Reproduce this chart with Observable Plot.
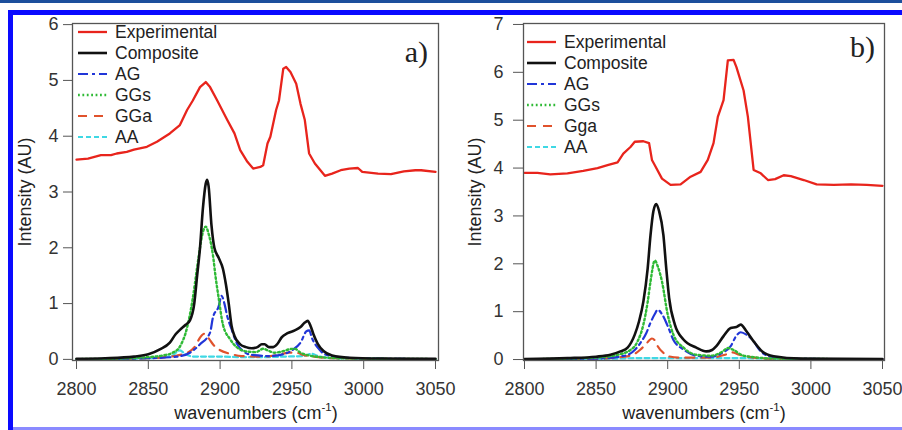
<!DOCTYPE html>
<html><head><meta charset="utf-8">
<script src="https://cdn.jsdelivr.net/npm/d3@7"></script>
<script src="https://cdn.jsdelivr.net/npm/@observablehq/plot@0.6"></script>
<style>
html,body{margin:0;padding:0;background:#fff;}
#wrap{position:relative;width:902px;height:430px;overflow:hidden;background:#fff;}
#wrap svg{position:absolute;top:0;}
.bar{position:absolute;z-index:5;}
</style></head><body>
<div id="wrap">
 <div class="bar" style="left:0;top:0;width:902px;height:3px;background:#1d4f9c"></div>
 <div class="bar" style="left:8px;top:10px;width:894px;height:5px;background:#0a0aff"></div>
 <div class="bar" style="left:8px;top:10px;width:5px;height:420px;background:#0a0aff"></div>
 <div class="bar" style="left:13px;top:427px;width:889px;height:3px;background:#8a8aff"></div>
</div>
<script>
// ---------- data: [wavenumber, intensity] ----------
const xTicks = [2800, 2850, 2900, 2950, 3000, 3050];
const yTicksA = [0, 1, 2, 3, 4, 5, 6];
const yTicksB = [0, 1, 2, 3, 4, 5, 6, 7];
const namesA = ["Experimental", "Composite", "AG", "GGs", "GGa", "AA"];
const namesB = ["Experimental", "Composite", "AG", "GGs", "Gga", "AA"];

const expA = [[2800,3.58],[2808,3.60],[2817,3.66],[2824,3.66],[2828,3.69],[2835,3.72],[2840,3.76],[2849,3.81],[2856,3.90],[2865,4.05],[2872,4.20],[2877,4.47],[2881,4.64],[2886,4.88],[2890,4.97],[2893,4.88],[2898,4.64],[2905,4.29],[2910,4.05],[2914,3.75],[2919,3.54],[2923,3.42],[2928,3.45],[2930,3.48],[2933,3.87],[2935,3.99],[2939,4.47],[2941,4.64],[2944,5.21],[2946,5.24],[2949,5.15],[2953,4.94],[2956,4.58],[2959,4.29],[2962,3.69],[2966,3.51],[2973,3.29],[2978,3.33],[2984,3.39],[2990,3.42],[2996,3.43],[2999,3.36],[3010,3.33],[3019,3.32],[3028,3.37],[3036,3.39],[3040,3.39],[3050,3.36]];
const compA = [[2800,0.01],[2820,0.02],[2840,0.05],[2850,0.09],[2858,0.18],[2865,0.3],[2869,0.45],[2872,0.53],[2876,0.62],[2879,0.7],[2882,1.0],[2884,1.5],[2886,2.0],[2888,2.7],[2890,3.15],[2891,3.22],[2892,3.1],[2894,2.4],[2896,2.0],[2899,1.82],[2902,1.62],[2904,1.35],[2906,1.0],[2908,0.6],[2910,0.42],[2914,0.27],[2918,0.22],[2922,0.2],[2926,0.22],[2929,0.27],[2931,0.27],[2934,0.22],[2937,0.22],[2940,0.28],[2943,0.4],[2947,0.47],[2952,0.52],[2956,0.58],[2959,0.66],[2961,0.69],[2963,0.6],[2965,0.45],[2968,0.28],[2972,0.15],[2978,0.07],[2990,0.03],[3010,0.015],[3050,0.01]];
const agA = [[2800,0.003],[2850,0.02],[2870,0.05],[2879,0.12],[2886,0.27],[2893,0.48],[2895,0.75],[2899,0.95],[2901,1.14],[2903,1.0],[2905,0.77],[2908,0.54],[2912,0.27],[2916,0.15],[2922,0.08],[2935,0.06],[2945,0.1],[2951,0.18],[2956,0.3],[2960,0.5],[2962,0.52],[2964,0.38],[2969,0.18],[2973,0.09],[2985,0.03],[3050,0.003]];
const ggsA = [[2800,0.005],[2830,0.015],[2850,0.04],[2860,0.07],[2867,0.12],[2872,0.23],[2877,0.57],[2881,1.1],[2884,1.65],[2886,2.0],[2888,2.28],[2890,2.38],[2892,2.25],[2895,1.87],[2897,1.45],[2899,1.1],[2902,0.62],[2907,0.36],[2912,0.21],[2919,0.14],[2925,0.13],[2930,0.19],[2934,0.15],[2938,0.12],[2943,0.14],[2948,0.18],[2952,0.19],[2956,0.12],[2962,0.07],[2970,0.04],[2985,0.02],[3050,0.005]];
const ggaA = [[2800,0.003],[2850,0.02],[2870,0.07],[2878,0.13],[2883,0.25],[2886,0.39],[2889,0.46],[2892,0.38],[2895,0.27],[2899,0.18],[2907,0.1],[2915,0.06],[2925,0.05],[2935,0.06],[2942,0.09],[2948,0.12],[2953,0.12],[2958,0.08],[2965,0.05],[2980,0.02],[3050,0.003]];
const aaA = [[2800,0.002],[2850,0.02],[2866,0.06],[2872,0.16],[2876,0.09],[2882,0.05],[2890,0.05],[2900,0.05],[2915,0.04],[2930,0.04],[2945,0.05],[2958,0.06],[2964,0.1],[2968,0.06],[2980,0.02],[3050,0.002]];

const expB = [[2800,3.90],[2809,3.90],[2818,3.87],[2824,3.88],[2830,3.89],[2841,3.94],[2851,4.00],[2858,4.06],[2865,4.12],[2869,4.30],[2874,4.44],[2877,4.55],[2883,4.56],[2887,4.52],[2889,4.17],[2891,4.06],[2896,3.78],[2902,3.65],[2909,3.66],[2916,3.82],[2923,3.92],[2928,4.17],[2932,4.52],[2935,5.07],[2939,5.42],[2942,6.25],[2946,6.26],[2948,6.11],[2953,5.62],[2956,5.07],[2960,3.96],[2965,3.89],[2970,3.75],[2975,3.77],[2981,3.85],[2986,3.83],[2995,3.75],[3004,3.66],[3016,3.65],[3028,3.66],[3039,3.65],[3050,3.63]];
const compB = [[2800,0.01],[2830,0.03],[2850,0.06],[2860,0.1],[2867,0.17],[2872,0.25],[2877,0.52],[2880,0.8],[2883,1.21],[2886,1.9],[2888,2.6],[2890,3.1],[2892,3.25],[2894,3.1],[2897,2.6],[2899,1.9],[2901,1.29],[2905,0.73],[2911,0.42],[2920,0.25],[2927,0.17],[2931,0.2],[2934,0.28],[2939,0.49],[2944,0.66],[2948,0.68],[2951,0.73],[2955,0.59],[2960,0.38],[2966,0.17],[2974,0.07],[2993,0.02],[3050,0.01]];
const agB = [[2800,0.003],[2850,0.02],[2870,0.08],[2877,0.2],[2881,0.35],[2885,0.55],[2888,0.77],[2891,0.95],[2893,1.04],[2896,0.95],[2900,0.7],[2904,0.41],[2911,0.21],[2920,0.08],[2930,0.06],[2938,0.14],[2944,0.28],[2948,0.5],[2951,0.57],[2955,0.52],[2959,0.42],[2965,0.17],[2972,0.06],[2985,0.02],[3050,0.003]];
const ggsB = [[2800,0.005],[2850,0.04],[2865,0.1],[2874,0.2],[2879,0.38],[2883,0.73],[2886,1.2],[2888,1.63],[2891,2.07],[2893,1.95],[2896,1.63],[2900,0.94],[2904,0.52],[2911,0.25],[2920,0.1],[2930,0.08],[2938,0.16],[2942,0.24],[2946,0.2],[2952,0.09],[2960,0.05],[2975,0.02],[3050,0.005]];
const ggaB = [[2800,0.003],[2850,0.02],[2870,0.06],[2877,0.12],[2881,0.21],[2885,0.33],[2889,0.44],[2891,0.4],[2893,0.28],[2897,0.14],[2900,0.07],[2910,0.04],[2930,0.04],[2940,0.1],[2945,0.15],[2950,0.1],[2958,0.05],[2970,0.02],[3050,0.003]];
const aaB = [[2800,0.002],[2850,0.01],[2880,0.03],[2900,0.03],[2930,0.03],[2950,0.03],[2970,0.02],[3050,0.002]];

// ---------- styles ----------
const FONT = "'Liberation Sans', Arial, Helvetica, sans-serif";
const lineStyles = [
  {stroke:"#e8241c", w:2.3, dash:null},          // Experimental
  {stroke:"#111111", w:2.6, dash:null},          // Composite
  {stroke:"#2136d8", w:2.2, dash:"10,4,3,4"},    // AG
  {stroke:"#2fba36", w:2.4, dash:"1.8,2.6"},     // GGs
  {stroke:"#e0522c", w:2.2, dash:"9,7"},         // GGa
  {stroke:"#3fd8e4", w:2.2, dash:"5,3"}          // AA
];

function drawPanel(o) {
  const series = [o.exp, o.comp, o.ag, o.ggs, o.gga, o.aa];
  const order = [5, 4, 2, 3, 1, 0];
  const lineMarks = order.map(i => Plot.line(series[i], {
    x: d => d[0], y: d => d[1],
    stroke: lineStyles[i].stroke, strokeWidth: lineStyles[i].w,
    strokeDasharray: lineStyles[i].dash || undefined,
    curve: i === 0 ? "linear" : "monotone-x"
  }));
  const svg = Plot.plot({
    width: 451, height: 430,
    marginLeft: o.ml, marginRight: o.mr, marginTop: 23, marginBottom: 70,
    x: {domain: o.xd}, y: {domain: o.yd},
    style: {fontFamily: FONT, fontSize: "18px", color: "#333", background: "transparent", overflow: "visible"},
    marks: [
      Plot.axisX({ticks: xTicks, tickSize: 9, tickPadding: 13, tickFormat: d => String(d), label: null, stroke: "#555"}),
      Plot.axisY({ticks: o.yTicks, tickSize: o.yts, tickPadding: o.ytp, tickFormat: d => String(d), label: null, stroke: "#555"}),
      ...lineMarks,
      Plot.frame({stroke: "#555", strokeWidth: 1.3})
    ]
  });
  svg.style.left = o.left + "px";
  const s = d3.select(svg);
  // legend
  const g = s.append("g").attr("font-family", FONT).attr("font-size", 17.5).attr("fill", "#222")
    .attr("text-anchor", "start");
  o.names.forEach((name, i) => {
    const yc = o.ly + 21 * i;
    const st = lineStyles[i];
    g.append("line").attr("x1", o.lx).attr("x2", o.lx + 29).attr("y1", yc).attr("y2", yc)
      .attr("stroke", st.stroke).attr("stroke-width", st.w)
      .attr("stroke-dasharray", st.dash);
    g.append("text").attr("x", o.lx + 37).attr("y", yc + 6).attr("text-anchor", "start").text(name);
  });
  // panel label
  s.append("text").attr("x", o.px).attr("y", o.py).attr("text-anchor", "end")
    .attr("font-family", "'Liberation Serif', 'Times New Roman', serif").attr("font-size", 30)
    .attr("fill", "#222").text(o.label);
  // x axis label
  const xl = s.append("text").attr("x", o.xlc).attr("y", 419).attr("text-anchor", "middle")
    .attr("font-family", FONT).attr("font-size", 18).attr("fill", "#222");
  xl.append("tspan").text("wavenumbers (cm");
  xl.append("tspan").attr("dy", -8).attr("font-size", 11.5).text("-1");
  xl.append("tspan").attr("dy", 8).text(")");
  // y axis label
  s.append("text").attr("transform", `translate(${o.ylx},192) rotate(-90)`).attr("text-anchor", "middle")
    .attr("font-family", FONT).attr("font-size", 18).attr("fill", "#222").text("Intensity (AU)");
  document.getElementById("wrap").appendChild(svg);
}

drawPanel({exp: expA, comp: compA, ag: agA, ggs: ggsA, gga: ggaA, aa: aaA,
  names: namesA, yTicks: yTicksA, left: 0, ml: 72, mr: 13,
  xd: [2797.2, 3052.1], yd: [-0.02, 6.02], yts: 9, ytp: 5,
  lx: 78, ly: 32, px: 428, py: 62, label: "a)", xlc: 256, ylx: 31});

drawPanel({exp: expB, comp: compB, ag: agB, ggs: ggsB, gga: ggaB, aa: aaB,
  names: namesB, yTicks: yTicksB, left: 451, ml: 72, mr: 18,
  xd: [2799.3, 3051.4], yd: [-0.02, 7.02], yts: 10, ytp: 10,
  lx: 76, ly: 42, px: 424, py: 57, label: "b)", xlc: 253, ylx: 30});
</script>
</body></html>
